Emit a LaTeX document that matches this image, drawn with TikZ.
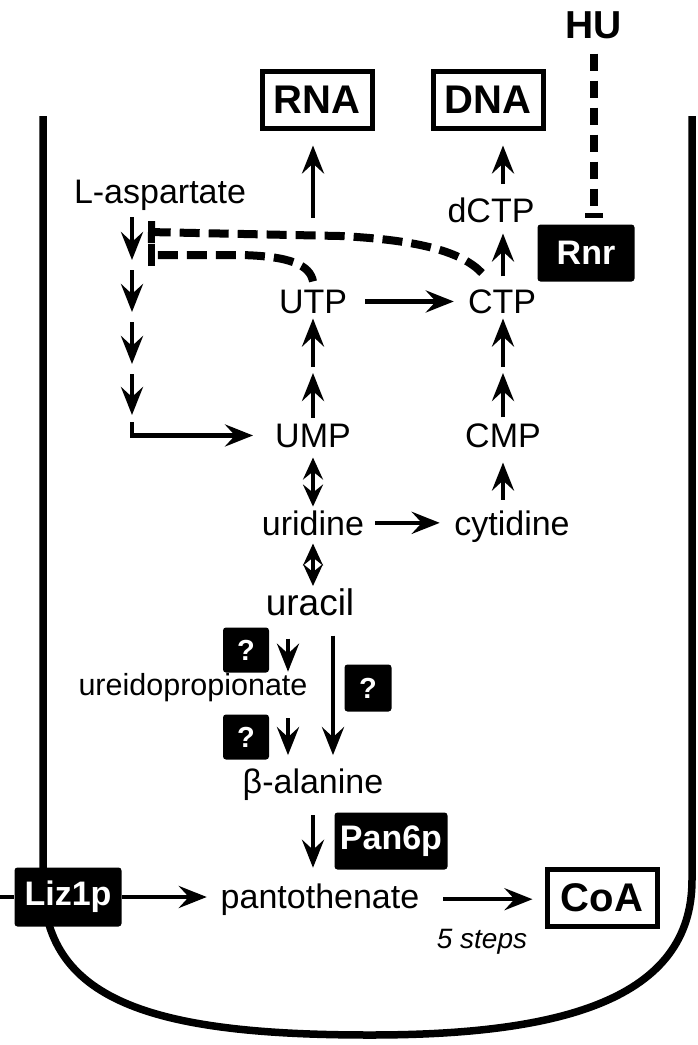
\documentclass[tikz,border=0pt]{standalone}
\usepackage{fontspec}
\setmainfont{Liberation Sans}
\usetikzlibrary{arrows.meta}
\usetikzlibrary{calc}
\tikzset{
    mol/.style = {anchor=base, inner sep=0pt, font=\fontsize{34}{40}\selectfont},
    prod/.style = {rectangle, line width=5pt, draw=black, minimum width=110pt, minimum height=57pt, inner sep=0pt, font=\fontsize{40}{48}\selectfont\bfseries},
    enz/.style = {rectangle, rounded corners=3pt, fill=black, text=white, minimum height=57pt, inner sep=0pt, font=\fontsize{34}{40}\selectfont\bfseries},
    qbox/.style = {enz, minimum width=46pt, minimum height=45pt, font=\fontsize{29}{34}\selectfont\bfseries},
    edgen/.style = {-{Stealth[length=28pt,width=22pt,inset=10pt]}, line width=4.5pt},
    edgebi/.style = {{Stealth[length=22pt,width=20pt,inset=8pt]}-{Stealth[length=22pt,width=20pt,inset=8pt]}, line width=4.5pt},
    inhib/.style = {-{Bar[width=22pt,line width=7pt]}, line width=8pt, dash pattern=on 20pt off 9pt}, % feedback
    huinhib/.style = {-{Bar[width=18pt,line width=5pt]}, line width=8.5pt, dash pattern=on 17pt off 10pt},
    membrane/.style = {line width=7.5pt}
}

\begin{document}
\begin{tikzpicture}[x=1pt, y=-1pt]
  \useasboundingbox (0,0) rectangle (697,1045);

  % cell
  \draw[membrane] (43,116) -- (43,880) .. controls (43,1000) and (150,1035) .. (370,1035)
    .. controls (560,1035) and (692,1000) .. (692,880) -- (692,116);

  \node[mol] (asp) at (160,203) {L-aspartate};
  \node[mol] (utp) at (313,313) {UTP};
  \node[mol] (ctp) at (502,313) {CTP};
  \node[mol] (dctp) at (491,222) {dCTP};
  \node[mol] (ump) at (313,447) {UMP};
  \node[mol] (cmp) at (503,447) {CMP};
  \node[mol] (urd) at (313,535) {uridine};
  \node[mol] (cyd) at (512,535) {cytidine};
  \node[mol, font=\fontsize{37}{44}\selectfont] (ura) at (310,615) {uracil};
  \node[mol, font=\fontsize{30.5}{36}\selectfont] (ureido) at (193,695) {ureidopropionate};
  \node[mol] (bala) at (313,793) {β-alanine};
  \node[mol] (panto) at (320,908) {pantothenate};
  \node[mol, font=\fontsize{28}{34}\selectfont\itshape] (steps) at (482,948) {5 steps};

  \node[prod] (rna) at (317,100) {RNA};
  \node[prod] (dna) at (488,100) {DNA};
  \node[prod] (coa) at (602,898) {CoA};
  \node[mol, font=\fontsize{39}{46}\selectfont\bfseries] (hu) at (594,38) {HU};
  \node[enz, minimum width=97pt] (rnr) at (586,253) {Rnr};
  \node[enz, minimum width=113pt] (pan) at (391,841) {Pan6p};
  \node[enz, minimum width=107pt, minimum height=59pt] (liz) at (68,897) {Liz1p};
  \node[qbox] (q1) at (246,650) {?};
  \node[qbox] (q2) at (246,737) {?};
  \node[qbox, minimum width=47pt, minimum height=47pt] (q3) at (368,688) {?};

  \coordinate (rc) at (503,0);
  \coordinate (qc) at (288,0);
  \coordinate (dc) at (333,0);
  \coordinate (umid) at (313,370);
  \coordinate (cmid) at (503,370);
  \coordinate (k0) at (132,212);
  \coordinate (k1) at (132,265);
  \coordinate (k2) at (132,317);
  \coordinate (k3) at (132,369);
  \coordinate (k4) at (132,420);
  \coordinate (inh1) at (148,232);
  \coordinate (inh2) at (148,255);
  \coordinate (outside) at (0,897);

  % de novo
  \draw[edgen, shorten <=5pt, shorten >=5pt] (k0) -- (k1);
  \draw[edgen, shorten <=5pt, shorten >=5pt] (k1) -- (k2);
  \draw[edgen, shorten <=5pt, shorten >=5pt] (k2) -- (k3);
  \draw[edgen, shorten <=5pt, shorten >=5pt] (k3) -- (k4);
  \draw[edgen, shorten <=2pt, shorten >=22pt] (k4) |- (ump.west);

  \draw[edgen, shorten <=5.6pt, shorten >=3pt] (ump.north) -- (umid);
  \draw[edgen, shorten <=3pt, shorten >=5pt] (umid) -- (utp.south);
  \draw[edgen, shorten <=71.6pt, shorten >=14.5pt] (utp.north) -- (utp.north |- rna.south);
  \draw[edgen, shorten <=18pt, shorten >=14pt] (utp.east) -- (utp.east -| ctp.west);

  \draw[edgen, shorten <=5.6pt, shorten >=3pt] (cmp.north -| rc) -- (cmid);
  \draw[edgen, shorten <=3pt, shorten >=5pt] (cmid) -- (ctp.south -| rc);
  \draw[edgen, shorten <=12.6pt, shorten >=11pt] (ctp.north -| rc) -- (dctp.south -| rc);
  \draw[edgen, shorten <=13pt, shorten >=14.5pt] (dctp.north -| rc) -- (rc |- dna.south);

  % salvage
  \draw[edgebi, shorten <=10pt, shorten >=3.6pt] (ump.south) -- (urd.north);
  \draw[edgebi, shorten <=8pt, shorten >=2pt] (urd.south) -- (urd.south |- ura.north);
  \draw[edgen, shorten <=11pt, shorten >=14.4pt] (urd.east) -- (urd.east -| cyd.west);
  \draw[edgen, shorten <=10.6pt, shorten >=15pt] (cyd.north -| rc) -- (cmp.south -| rc);

  % uracil to pantothenate
  \draw[edgen, shorten <=23pt, shorten >=1pt] (ura.south -| qc) -- (ureido.north -| qc);
  \draw[edgen, shorten <=16.6pt, shorten >=13pt] (ureido.south -| qc) -- (bala.north -| qc);
  \draw[edgen, shorten <=20pt, shorten >=13pt] (ura.south -| dc) -- (bala.north -| dc);
  \draw[edgen, shorten <=15pt, shorten >=15.4pt] (bala.south) -- (bala.south |- panto.north);

  \draw[line width=4.5pt] (outside) -- (liz.west);
  \draw[edgen, shorten >=13.75pt] (liz.east) -- (liz.east -| panto.west);
  \draw[edgen, shorten <=23.7pt, shorten >=12pt] (panto.east) -- (panto.east -| coa.west);

  % feedback
  \draw[inhib] ($(ctp.north)+(-20,-16)$) .. controls (462,252) and (420,240) .. (340,236) -- (inh1);
  \draw[inhib] ($(utp.north)+(0,-8)$) .. controls (310,265) and (290,256) .. (240,255) -- (inh2);
  \draw[huinhib, shorten <=15pt, shorten >=6.5pt] (hu.south) -- (hu.south |- rnr.north);

\end{tikzpicture}
\end{document}
